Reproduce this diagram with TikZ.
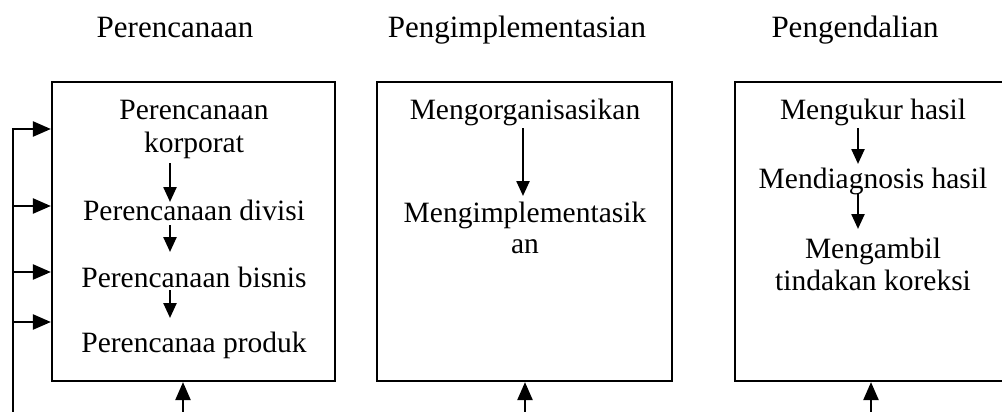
\documentclass[tikz,border=0pt]{standalone}
\usepackage{fontspec}
\setmainfont{Liberation Serif}
\usetikzlibrary{arrows.meta}
\begin{document}
\begin{tikzpicture}[x=1pt,y=-1pt,
  line width=2.4pt,
  boxnode/.style={draw,line width=2.2pt,rectangle,inner sep=0pt},
  hdr/.style={font=\fontsize{31}{34}\selectfont,anchor=base,inner sep=0pt},
  txt/.style={font=\fontsize{29.5}{32}\selectfont,anchor=base,inner sep=0pt,align=center},
  arr/.style={-{Triangle[length=18pt,width=15pt]}},
  sarr/.style={-{Triangle[length=15pt,width=13pt]}}]
\useasboundingbox[fill=white] (0,0) rectangle (1002,412);
% headers
\node[hdr] (h1) at (175,38) {Perencanaan};
\node[hdr] (h2) at (517,38) {Pengimplementasian};
\node[hdr] (h3) at (855,38) {Pengendalian};
% boxes
\node[boxnode,minimum width=283pt,minimum height=299pt] (b1) at (193.5,231.5) {};
\node[boxnode,minimum width=295pt,minimum height=299pt] (b2) at (524.5,231.5) {};
\node[boxnode,minimum width=276pt,minimum height=299pt] (b3) at (873,231.5) {};
% box 1 texts
\node[txt] (p1a) at (194,120) {Perencanaan};
\node[txt] (p1b) at (194,152) {korporat};
\node[txt] (p2) at (194,220) {Perencanaan divisi};
\node[txt] (p3) at (194,287) {Perencanaan bisnis};
\node[txt] (p4) at (194,352) {Perencanaa produk};
% box 2 texts
\node[txt] (m1) at (525,119) {Mengorganisasikan};
\node[txt] (m2a) at (525,222) {Mengimplementasik};
\node[txt] (m2b) at (525,253) {an};
% box 3 texts
\node[txt] (k1) at (873,120) {Mengukur hasil};
\node[txt] (k2) at (873,188) {Mendiagnosis hasil};
\node[txt] (k3a) at (873,258) {Mengambil};
\node[txt] (k3b) at (873,290) {tindakan koreksi};
% inner arrows
\coordinate (a1s) at (170,163); \coordinate (a1e) at (170,202);
\coordinate (a2s) at (170,225); \coordinate (a2e) at (170,252);
\coordinate (a3s) at (170,290); \coordinate (a3e) at (170,318);
\draw[sarr] (a1s) -- (a1e);
\draw[sarr] (a2s) -- (a2e);
\draw[sarr] (a3s) -- (a3e);
\coordinate (b2s) at (523,128); \coordinate (b2e) at (523,196);
\draw[sarr] (b2s) -- (b2e);
\coordinate (c1s) at (858,128); \coordinate (c1e) at (858,164);
\coordinate (c2s) at (858,193); \coordinate (c2e) at (858,229);
\draw[sarr] (c1s) -- (c1e);
\draw[sarr] (c2s) -- (c2e);
% feedback line on the left
\coordinate (fbot) at (13,414);
\coordinate (f1) at (13,129);
\coordinate (f2) at (13,206);
\coordinate (f3) at (13,272);
\coordinate (f4) at (13,322);
\draw (fbot) -- ([yshift=-1.2pt]f1);
\draw[arr] ([xshift=-1.2pt]f1) -- (f1 -| b1.west);
\draw[arr] (f2) -- (f2 -| b1.west);
\draw[arr] (f3) -- (f3 -| b1.west);
\draw[arr] (f4) -- (f4 -| b1.west);
% bottom arrows
\coordinate (u1) at (183,414);
\coordinate (u2) at (525,414);
\coordinate (u3) at (871,414);
\draw[arr] (u1) -- (u1 |- b1.south);
\draw[arr] (u2) -- (u2 |- b2.south);
\draw[arr] (u3) -- (u3 |- b3.south);
\end{tikzpicture}
\end{document}
